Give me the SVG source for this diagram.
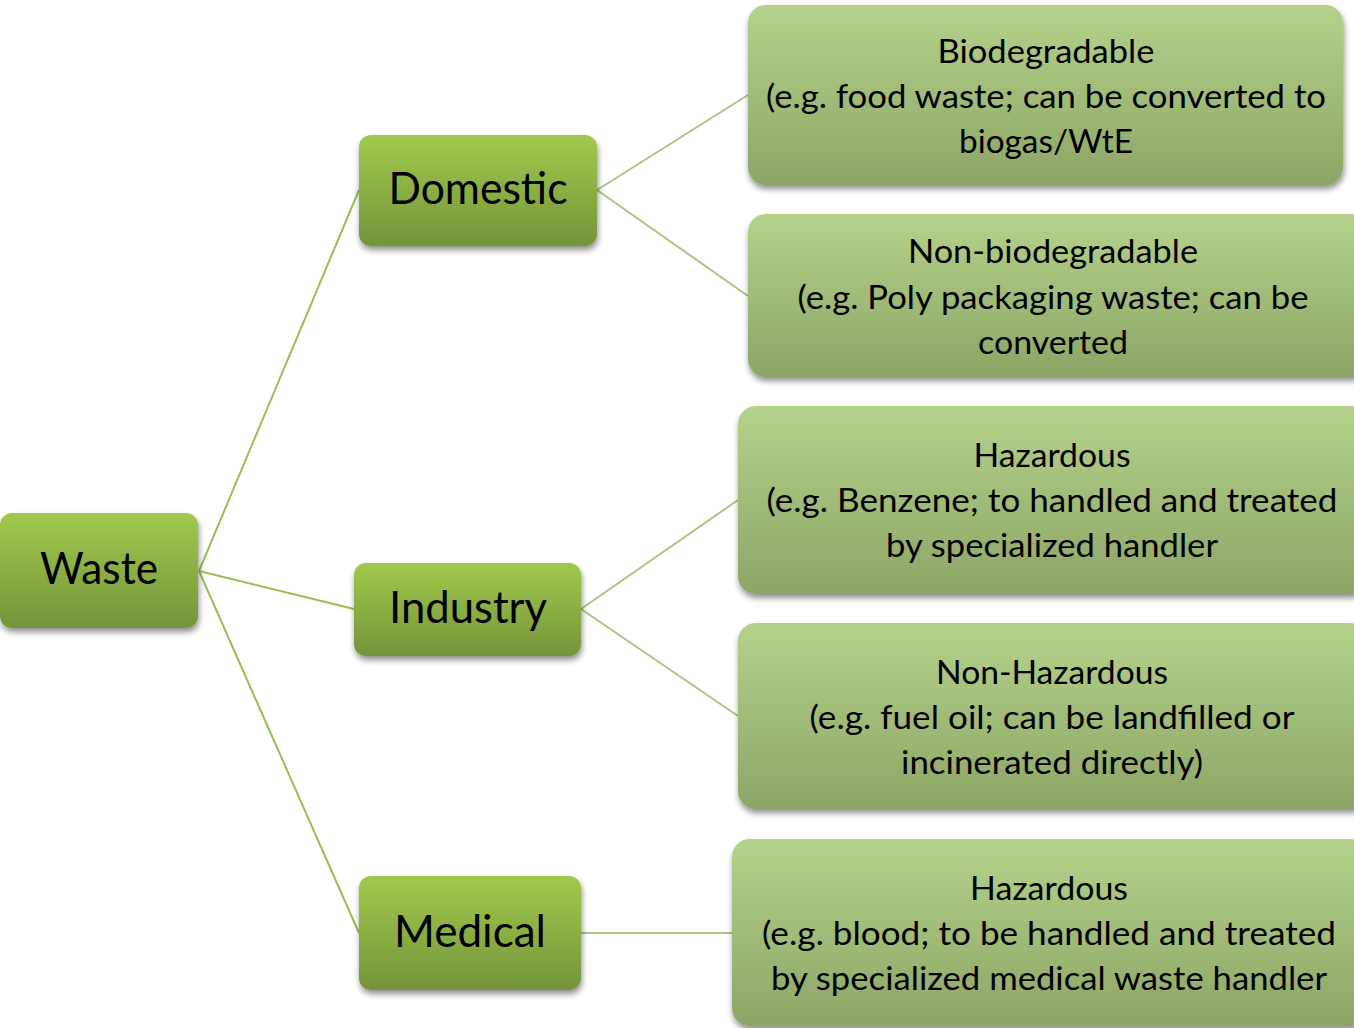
<svg xmlns="http://www.w3.org/2000/svg" width="1354" height="1028" viewBox="0 0 1354 1028">
<defs>
<linearGradient id="gNode" x1="0" y1="0" x2="0" y2="1">
<stop offset="0" stop-color="#a2c94c"/>
<stop offset="1" stop-color="#74943a"/>
</linearGradient>
<linearGradient id="gLeaf" x1="0" y1="0" x2="0" y2="1">
<stop offset="0" stop-color="#b5d28a"/>
<stop offset="1" stop-color="#8da566"/>
</linearGradient>
<filter id="sh" x="-10%" y="-10%" width="120%" height="130%">
<feGaussianBlur in="SourceAlpha" stdDeviation="3"/>
<feOffset dx="1" dy="4" result="b"/>
<feComponentTransfer><feFuncA type="linear" slope="0.45"/></feComponentTransfer>
<feMerge><feMergeNode/><feMergeNode in="SourceGraphic"/></feMerge>
</filter>
</defs>
<style>
.node{fill:url(#gNode);filter:url(#sh);}
.leaf{fill:url(#gLeaf);filter:url(#sh);}
.nt{font-family:Lato,"Open Sans",sans-serif;font-size:44px;fill:#000;text-anchor:middle;}
.lt{font-family:Lato,"Open Sans",sans-serif;font-size:32px;fill:#000;text-anchor:middle;}
.c1{stroke:#9bbd57;stroke-width:2;fill:none;}
.c2{stroke:#aac683;stroke-width:2;fill:none;}
</style>
<rect width="1354" height="1028" fill="#fff"/>
<g id="connectors">
<line class="c1" x1="199" y1="571" x2="359" y2="190"/>
<line class="c1" x1="199" y1="571" x2="354" y2="609"/>
<line class="c1" x1="199" y1="571" x2="359" y2="933"/>
<line class="c2" x1="597" y1="190" x2="748" y2="95"/>
<line class="c2" x1="597" y1="190" x2="748" y2="296"/>
<line class="c2" x1="581" y1="609" x2="738" y2="500"/>
<line class="c2" x1="581" y1="609" x2="738" y2="716"/>
<line class="c2" x1="581" y1="933" x2="732" y2="933"/>
</g>
<g id="waste">
<rect class="node" x="0" y="513" width="198" height="115" rx="12"/>
<text class="nt" x="99" y="584" textLength="118" lengthAdjust="spacingAndGlyphs">Waste</text>
</g>
<g id="domestic">
<rect class="node" x="359" y="135" width="238" height="111" rx="12"/>
<text class="nt" x="478" y="204" textLength="179" lengthAdjust="spacingAndGlyphs">Domestic</text>
</g>
<g id="industry">
<rect class="node" x="354" y="563" width="227" height="93" rx="12"/>
<text class="nt" x="468" y="623" textLength="158" lengthAdjust="spacingAndGlyphs">Industry</text>
</g>
<g id="medical">
<rect class="node" x="359" y="876" width="222" height="114" rx="12"/>
<text class="nt" x="470" y="947" textLength="152" lengthAdjust="spacingAndGlyphs">Medical</text>
</g>
<g id="biodegradable">
<rect class="leaf" x="748" y="5" width="595" height="180" rx="18"/>
<text class="lt" x="1046" y="63" textLength="217" lengthAdjust="spacingAndGlyphs">Biodegradable</text>
<text class="lt" x="1046" y="108" textLength="560" lengthAdjust="spacingAndGlyphs">(e.g. food waste; can be converted to</text>
<text class="lt" x="1046" y="153" textLength="174" lengthAdjust="spacingAndGlyphs">biogas/WtE</text>
</g>
<g id="non-biodegradable">
<rect class="leaf" x="748" y="214" width="620" height="163" rx="18"/>
<text class="lt" x="1053" y="263" textLength="290" lengthAdjust="spacingAndGlyphs">Non-biodegradable</text>
<text class="lt" x="1053" y="309" textLength="511" lengthAdjust="spacingAndGlyphs">(e.g. Poly packaging waste; can be</text>
<text class="lt" x="1053" y="354" textLength="150" lengthAdjust="spacingAndGlyphs">converted</text>
</g>
<g id="industry-hazardous">
<rect class="leaf" x="738" y="406" width="630" height="188" rx="18"/>
<text class="lt" x="1052" y="467" textLength="157" lengthAdjust="spacingAndGlyphs">Hazardous</text>
<text class="lt" x="1052" y="512" textLength="571" lengthAdjust="spacingAndGlyphs">(e.g. Benzene; to handled and treated</text>
<text class="lt" x="1052" y="557" textLength="332" lengthAdjust="spacingAndGlyphs">by specialized handler</text>
</g>
<g id="industry-non-hazardous">
<rect class="leaf" x="738" y="623" width="630" height="186" rx="18"/>
<text class="lt" x="1052" y="684" textLength="232" lengthAdjust="spacingAndGlyphs">Non-Hazardous</text>
<text class="lt" x="1052" y="729" textLength="485" lengthAdjust="spacingAndGlyphs">(e.g. fuel oil; can be landfilled or</text>
<text class="lt" x="1052" y="774" textLength="302" lengthAdjust="spacingAndGlyphs">incinerated directly)</text>
</g>
<g id="medical-hazardous">
<rect class="leaf" x="732" y="839" width="636" height="187" rx="18"/>
<text class="lt" x="1049" y="900" textLength="158" lengthAdjust="spacingAndGlyphs">Hazardous</text>
<text class="lt" x="1049" y="945" textLength="574" lengthAdjust="spacingAndGlyphs">(e.g. blood; to be handled and treated</text>
<text class="lt" x="1049" y="990" textLength="556" lengthAdjust="spacingAndGlyphs">by specialized medical waste handler</text>
</g>
</svg>
